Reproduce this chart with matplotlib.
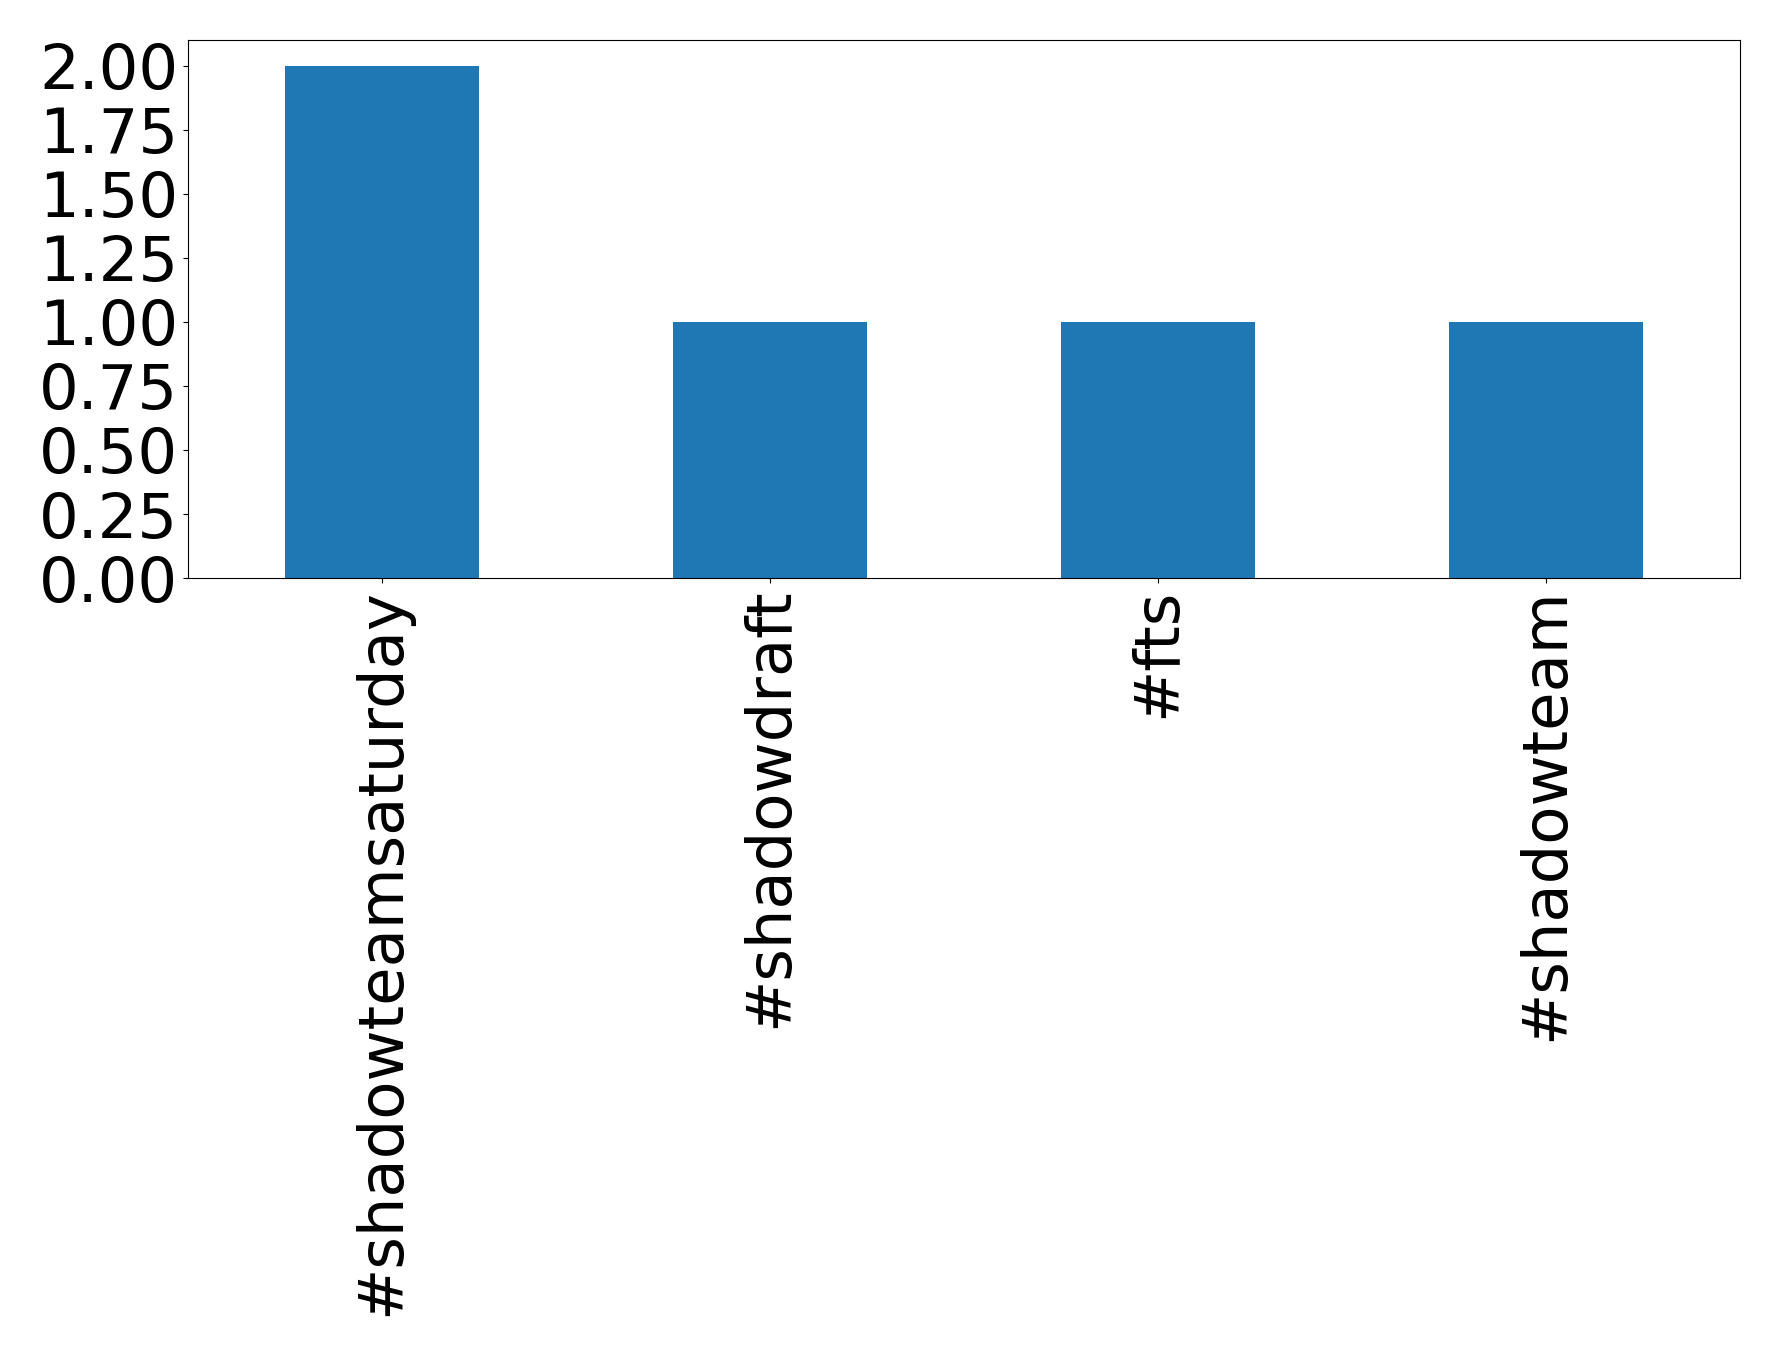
import numpy as np
import matplotlib.pyplot as plt

# hashtag counts
tags = ["#shadowteamsaturday", "#shadowdraft", "#fts", "#shadowteam"]
counts = [2, 1, 1, 1]

fig = plt.figure(figsize=(17.78, 13.56), dpi=100)
ax = fig.add_axes([0.1057, 0.5737, 0.8729, 0.3968])

x = np.arange(len(tags))
ax.bar(x, counts, width=0.5, color="#1f77b4")
ax.set_xlim(-0.5, len(tags) - 0.5)
ax.set_ylim(0, 2.1)
ax.set_yticks(np.arange(0, 2.01, 0.25))
ax.set_yticklabels([f"{v:.2f}" for v in np.arange(0, 2.01, 0.25)])
ax.set_xticks(x)
ax.set_xticklabels(tags, rotation=90)
ax.tick_params(labelsize=45)

fig.savefig("out.png", dpi=100)
